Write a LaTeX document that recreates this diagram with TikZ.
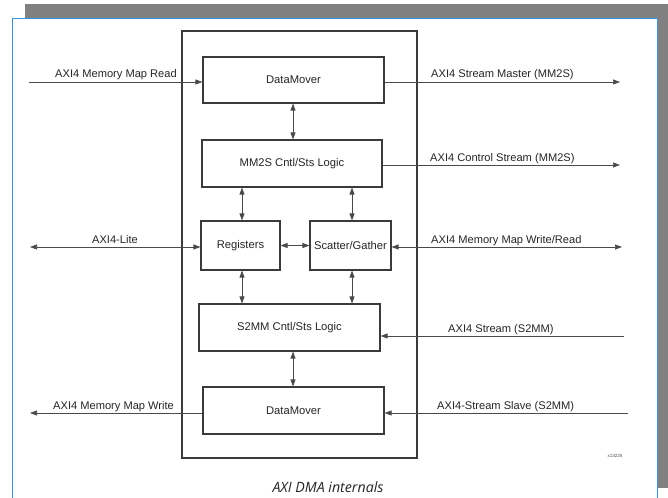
\documentclass[tikz,border=0pt]{standalone}
\usepackage{fontspec}
\setmainfont{Liberation Sans}
\newfontfamily\capfont{Open Sans}
\usetikzlibrary{arrows.meta}
\definecolor{framegray}{HTML}{808080}
\definecolor{frameblue}{HTML}{3D8FE0}
\definecolor{boxline}{HTML}{3A3A3A}
\definecolor{wire}{HTML}{4A4A4A}
\begin{document}
\begin{tikzpicture}[x=1pt,y=-1pt,
  block/.style={draw=boxline,line width=1.1pt,fill=white,inner sep=0pt,
    font=\fontsize{11.2}{13}\selectfont,text=black!85},
  wirelabel/.style={font=\fontsize{11.1}{13}\selectfont,text=black!85,inner sep=0pt},
  wireline/.style={draw=wire,line width=0.7pt},
  tip/.style={-{Triangle[length=7pt,width=5pt]}},
  tips/.style={{Triangle[length=7pt,width=5pt]}-{Triangle[length=7pt,width=5pt]}}]
\useasboundingbox (0,0) rectangle (668,497);
\clip (0,0) rectangle (668,497);
% page shadow and page
\fill[framegray] (25,4) rectangle (668,488);
\filldraw[fill=white,draw=frameblue,line width=0.9pt] (12,18.5) rectangle (657,520);

% enclosing core outline
\draw[boxline,line width=1.1pt] (182,31) rectangle (417,458);

% internal blocks
\node[block,minimum width=181pt,minimum height=46pt] (dm1) at (293.5,80) {DataMover};
\node[block,minimum width=180pt,minimum height=47pt] (mm2s) at (292,163.5) {MM2S Cntl/Sts Logic};
\node[block,minimum width=79pt,minimum height=49pt] (reg) at (240.5,245.5) {Registers};
\node[block,minimum width=81pt,minimum height=49pt] (sg) at (350.5,245.5) {Scatter/Gather};
\node[block,minimum width=181pt,minimum height=47pt] (s2mm) at (289.5,327.5) {S2MM Cntl/Sts Logic};
\node[block,minimum width=181pt,minimum height=47pt] (dm2) at (293.5,410.5) {DataMover};

% external end points
\coordinate (mmrIn) at (29,82);
\coordinate (msOut) at (620,82);
\coordinate (csOut) at (620,165);
\coordinate (liteEnd) at (30,247);
\coordinate (mmwrEnd) at (622,247);
\coordinate (ssIn) at (624,336);
\coordinate (mmwOut) at (30,413);
\coordinate (slvIn) at (628,413);

% external interfaces
\draw[wireline,tip] (mmrIn) -- (mmrIn -| dm1.west);
\draw[wireline,tip] (msOut -| dm1.east) -- (msOut);
\draw[wireline,tip] (csOut -| mm2s.east) -- (csOut);
\draw[wireline,tips] (liteEnd) -- (liteEnd -| reg.west);
\draw[wireline,tips] (mmwrEnd -| sg.east) -- (mmwrEnd);
\draw[wireline,tip] (ssIn) -- (ssIn -| s2mm.east);
\draw[wireline,tip] (mmwOut -| dm2.west) -- (mmwOut);
\draw[wireline,tip] (slvIn) -- (slvIn -| dm2.east);

% internal links
\draw[wireline,tips] (dm1.south -| 293,0) -- (mm2s.north -| 293,0);
\draw[wireline,tips] (mm2s.south -| 242,0) -- (reg.north -| 242,0);
\draw[wireline,tips] (mm2s.south -| 352,0) -- (sg.north -| 352,0);
\draw[wireline,tips] (reg.east) -- (sg.west);
\draw[wireline,tips] (reg.south -| 242,0) -- (s2mm.north -| 242,0);
\draw[wireline,tips] (sg.south -| 352,0) -- (s2mm.north -| 352,0);
\draw[wireline,tips] (s2mm.south -| 293,0) -- (dm2.north -| 293,0);

% interface labels
\node[wirelabel,anchor=base west] (l1) at (55,78) {AXI4 Memory Map Read};
\node[wirelabel,anchor=base west] (l2) at (431,78) {AXI4 Stream Master (MM2S)};
\node[wirelabel,anchor=base west] (l3) at (430,161.5) {AXI4 Control Stream (MM2S)};
\node[wirelabel,anchor=base] (l4) at (115,243.5) {AXI4-Lite};
\node[wirelabel,anchor=base west] (l5) at (431,243.5) {AXI4 Memory Map Write/Read};
\node[wirelabel,anchor=base west] (l6) at (448,332) {AXI4 Stream (S2MM)};
\node[wirelabel,anchor=base west] (l7) at (53,409) {AXI4 Memory Map Write};
\node[wirelabel,anchor=base west] (l8) at (437,409) {AXI4-Stream Slave (S2MM)};

% figure number and caption
\node[font=\fontsize{4.5}{5}\selectfont,text=black!70,inner sep=0pt] (fig) at (615,456) {x13225};
\node[font=\capfont\itshape\fontsize{14.2}{16}\selectfont,text=black!85,inner sep=0pt] (cap) at (328,487) {AXI DMA internals};
\end{tikzpicture}
\end{document}
